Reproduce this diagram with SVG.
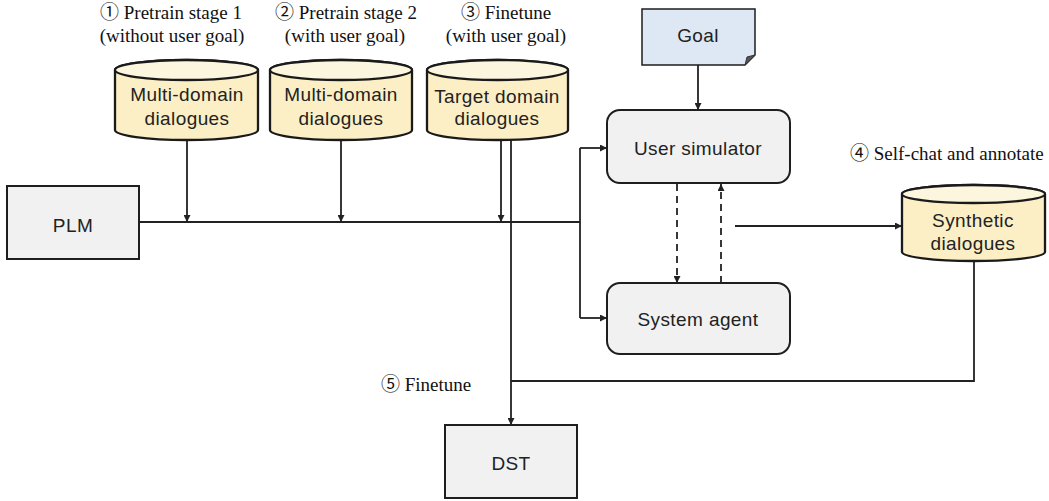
<svg xmlns="http://www.w3.org/2000/svg" width="1049" height="501" viewBox="0 0 1049 501">
  <style>
    .box { fill: #f1f1f1; stroke: #1e1e1e; stroke-width: 2; }
    .db-body { fill: #fcefc6; stroke: #1a1a1a; stroke-width: 2.3; }
    .db-top { fill: #fdf6de; stroke: #1a1a1a; stroke-width: 2.3; }
    .goal { fill: #dde8f4; stroke: #1e1e1e; stroke-width: 1.5; }
    .lbl { font-family: "Liberation Sans", Arial, sans-serif; font-size: 19px; letter-spacing: 0.4px; fill: #222; text-anchor: middle; }
    .note { font-family: "Liberation Serif", "Noto Sans CJK SC", serif; font-size: 19px; fill: #111; }
    .wire { fill: none; stroke: #222; stroke-width: 1.8; }
    .dash { fill: none; stroke: #222; stroke-width: 1.8; stroke-dasharray: 7 5; }
  </style>
  <defs>
    <marker id="arrow" viewBox="0 0 10 10" refX="10" refY="5" markerWidth="7" markerHeight="7" markerUnits="userSpaceOnUse" orient="auto">
      <path d="M0,0 L10,5 L0,10 Z" fill="#222"/>
    </marker>
  </defs>

  <rect width="1049" height="501" fill="#ffffff"/>

  <!-- stage annotations -->
  <g id="annotations">
    <text class="note" x="171" y="19" text-anchor="middle">① Pretrain stage 1</text>
    <text class="note" x="172" y="42" text-anchor="middle">(without user goal)</text>
    <text class="note" x="346" y="19" text-anchor="middle">② Pretrain stage 2</text>
    <text class="note" x="345" y="42" text-anchor="middle">(with user goal)</text>
    <text class="note" x="506" y="19" text-anchor="middle">③ Finetune</text>
    <text class="note" x="506" y="42" text-anchor="middle">(with user goal)</text>
    <text class="note" x="850" y="160">④ Self-chat and annotate</text>
    <text class="note" x="381" y="391">⑤ Finetune</text>
  </g>

  <!-- connectors -->
  <g id="connectors">
    <!-- PLM trunk and inputs -->
    <path class="wire" d="M139,222 H580"/>
    <path class="wire" d="M187,140 V222" marker-end="url(#arrow)"/>
    <path class="wire" d="M341,140 V222" marker-end="url(#arrow)"/>
    <path class="wire" d="M501,140 V222" marker-end="url(#arrow)"/>
    <path class="wire" d="M580,148 V318"/>
    <path class="wire" d="M580,148 H607" marker-end="url(#arrow)"/>
    <path class="wire" d="M580,318 H607" marker-end="url(#arrow)"/>
    <!-- goal to user simulator -->
    <path class="wire" d="M698,65 V110" marker-end="url(#arrow)"/>
    <!-- self-chat loop -->
    <path class="dash" d="M677,184 V283" marker-end="url(#arrow)"/>
    <path class="dash" d="M721,283 V184" marker-end="url(#arrow)"/>
    <path class="wire" d="M735,226 H902" marker-end="url(#arrow)"/>
    <!-- DST finetune -->
    <path class="wire" d="M511,140 V425" marker-end="url(#arrow)"/>
    <path class="wire" d="M974,261 V381 H511"/>
  </g>

  <g id="plm">
    <rect class="box" x="7" y="186" width="132" height="73"/>
    <text class="lbl" x="73" y="232">PLM</text>
  </g>

  <g id="db-multi-1">
    <path class="db-body" d="M115,70 V130 A71.5,10 0 0 0 258,130 V70 A71.5,10 0 0 0 115,70 Z"/>
    <ellipse class="db-top" cx="186.5" cy="70" rx="71.5" ry="10"/>
    <text class="lbl" x="187" y="101">Multi-domain</text>
    <text class="lbl" x="187" y="125">dialogues</text>
  </g>

  <g id="db-multi-2">
    <path class="db-body" d="M270,70 V130 A71,10 0 0 0 412,130 V70 A71,10 0 0 0 270,70 Z"/>
    <ellipse class="db-top" cx="341" cy="70" rx="71" ry="10"/>
    <text class="lbl" x="341" y="101">Multi-domain</text>
    <text class="lbl" x="341" y="125">dialogues</text>
  </g>

  <g id="db-target">
    <path class="db-body" d="M427,70 V130 A70.5,10 0 0 0 568,130 V70 A70.5,10 0 0 0 427,70 Z"/>
    <ellipse class="db-top" cx="497.5" cy="70" rx="70.5" ry="10"/>
    <text class="lbl" x="497" y="103">Target domain</text>
    <text class="lbl" x="497" y="125">dialogues</text>
  </g>

  <g id="goal">
    <path class="goal" d="M642,9 H755 V55 L745,65 H642 Z"/>
    <path d="M755,55 L745,65 L747,57 Z" fill="#555" stroke="#333" stroke-width="1"/>
    <text class="lbl" x="698" y="42">Goal</text>
  </g>

  <g id="user-simulator">
    <rect class="box" x="607" y="110" width="183" height="73" rx="13"/>
    <text class="lbl" x="698" y="155">User simulator</text>
  </g>

  <g id="system-agent">
    <rect class="box" x="607" y="283" width="183" height="71" rx="13"/>
    <text class="lbl" x="698" y="326">System agent</text>
  </g>

  <g id="db-synthetic">
    <path class="db-body" d="M902,194 V252 A71.5,9 0 0 0 1045,252 V194 A71.5,9 0 0 0 902,194 Z"/>
    <ellipse class="db-top" cx="973.5" cy="194" rx="71.5" ry="9"/>
    <text class="lbl" x="973" y="227">Synthetic</text>
    <text class="lbl" x="973" y="250">dialogues</text>
  </g>

  <g id="dst">
    <rect class="box" x="445" y="425" width="132" height="73"/>
    <text class="lbl" x="511" y="470">DST</text>
  </g>
</svg>
